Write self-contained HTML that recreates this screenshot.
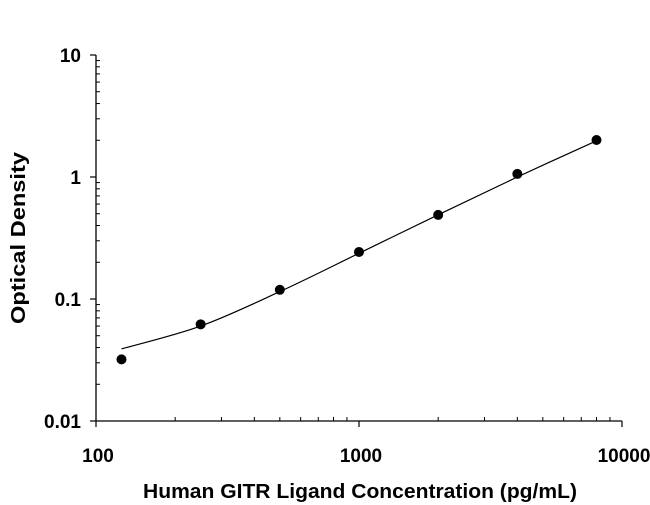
<!DOCTYPE html>
<html><head><meta charset="utf-8"><style>
body{margin:0;background:#fff}
svg{display:block;font-family:"Liberation Sans",sans-serif}
</style></head><body>
<svg id="chart" width="650" height="505">
<g id="axes"></g><g id="marks"></g>
<text x="360" y="498" text-anchor="middle" font-size="20" font-weight="bold" textLength="434" lengthAdjust="spacingAndGlyphs">Human GITR Ligand Concentration (pg/mL)</text>
<text transform="translate(25,238) rotate(-90)" text-anchor="middle" font-size="20" font-weight="bold" textLength="172" lengthAdjust="spacingAndGlyphs">Optical Density</text>
</svg>
<script>
const concentrations=[125,250,500,1000,2000,4000,8000];
const odValues=[0.032,0.062,0.119,0.243,0.489,1.06,2.01];
const fitValues=[0.039,0.060,0.115,0.237,0.49,1.0,1.98];
const xTicks=[100,1000,10000];
const yTicks=[0.01,0.1,1,10];
const yTickLabels=["0.01","0.1","1","10"];
const NS="http://www.w3.org/2000/svg";
const X0=96,X1=622,Y0=421,Y1=55;
const xs=v=>X0+(Math.log10(v)-2)/2*(X1-X0);
const ys=v=>Y0-(Math.log10(v)+2)/3*(Y0-Y1);
function mk(t,a,p){const e=document.createElementNS(NS,t);for(const k in a)e.setAttribute(k,a[k]);p.appendChild(e);return e;}
const ax=document.getElementById('axes'),mg=document.getElementById('marks');
let e=mk('line',{x1:X0,y1:Y1,x2:X0,y2:Y0,stroke:'#000','stroke-width':1.3},ax);

e=mk('line',{x1:X0,y1:Y0,x2:X1,y2:Y0,stroke:'#000','stroke-width':1.3},ax);

xTicks.forEach((v,i)=>{const x=xs(v);mk('line',{x1:x,y1:Y0,x2:x,y2:Y0+6,stroke:'#000','stroke-width':1.2},ax);
 const t=mk('text',{x:x+2,y:Y0+41,'text-anchor':'middle','font-size':19,'font-weight':'bold'},ax);t.textContent=String(v);
 
 if(i<xTicks.length-1)for(let m=2;m<10;m++){const xm=xs(v*m);mk('line',{x1:xm,y1:Y0,x2:xm,y2:Y0-4,stroke:'#000','stroke-width':1},ax);}});
yTicks.forEach((v,i)=>{const y=ys(v);mk('line',{x1:X0-6,y1:y,x2:X0,y2:y,stroke:'#000','stroke-width':1.2},ax);
 const t=mk('text',{x:X0-15,y:y+7,'text-anchor':'end','font-size':19,'font-weight':'bold'},ax);t.textContent=yTickLabels[i];
 
 if(i<yTicks.length-1)for(let m=2;m<10;m++){const yy=ys(v*m);mk('line',{x1:X0,y1:yy,x2:X0+4,y2:yy,stroke:'#000','stroke-width':1},ax);}});
const P=concentrations.map((c,i)=>[xs(c),ys(fitValues[i])]);
let d='M'+P[0][0]+','+P[0][1];
for(let i=0;i<P.length-1;i++){const p0=P[Math.max(0,i-1)],p1=P[i],p2=P[i+1],p3=P[Math.min(P.length-1,i+2)];
 d+=' C'+(p1[0]+(p2[0]-p0[0])/6)+','+(p1[1]+(p2[1]-p0[1])/6)+' '+(p2[0]-(p3[0]-p1[0])/6)+','+(p2[1]-(p3[1]-p1[1])/6)+' '+p2[0]+','+p2[1];}
e=mk('path',{d:d,fill:'none',stroke:'#000','stroke-width':1.2},mg);

concentrations.forEach((c,i)=>{const p=mk('circle',{cx:xs(c),cy:ys(odValues[i]),r:5,fill:'#000'},mg);
 });
</script>
</body></html>
